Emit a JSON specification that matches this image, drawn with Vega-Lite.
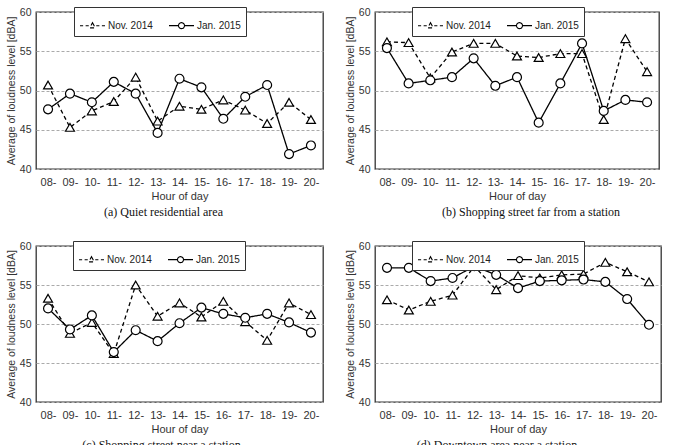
{
  "$schema": "https://vega.github.io/schema/vega-lite/v6.json",
  "padding": {"left": 5, "top": 5, "right": 5, "bottom": 5},
  "background": "white",
  "datasets": {
    "all": [
      {"p": "a", "hour": "08-", "nov": 50.7, "jan": 47.6},
      {"p": "a", "hour": "09-", "nov": 45.3, "jan": 49.6},
      {"p": "a", "hour": "10-", "nov": 47.4, "jan": 48.5},
      {"p": "a", "hour": "11-", "nov": 48.6, "jan": 51.1},
      {"p": "a", "hour": "12-", "nov": 51.7, "jan": 49.6},
      {"p": "a", "hour": "13-", "nov": 46.1, "jan": 44.6},
      {"p": "a", "hour": "14-", "nov": 48.0, "jan": 51.5},
      {"p": "a", "hour": "15-", "nov": 47.6, "jan": 50.4},
      {"p": "a", "hour": "16-", "nov": 48.8, "jan": 46.4},
      {"p": "a", "hour": "17-", "nov": 47.5, "jan": 49.2},
      {"p": "a", "hour": "18-", "nov": 45.8, "jan": 50.7},
      {"p": "a", "hour": "19-", "nov": 48.5, "jan": 41.9},
      {"p": "a", "hour": "20-", "nov": 46.3, "jan": 43.0},
      {"p": "b", "hour": "08-", "nov": 56.2, "jan": 55.4},
      {"p": "b", "hour": "09-", "nov": 56.1, "jan": 50.9},
      {"p": "b", "hour": "10-", "nov": 51.6, "jan": 51.3},
      {"p": "b", "hour": "11-", "nov": 54.9, "jan": 51.7},
      {"p": "b", "hour": "12-", "nov": 56.0, "jan": 54.1},
      {"p": "b", "hour": "13-", "nov": 56.0, "jan": 50.6},
      {"p": "b", "hour": "14-", "nov": 54.4, "jan": 51.7},
      {"p": "b", "hour": "15-", "nov": 54.2, "jan": 45.9},
      {"p": "b", "hour": "16-", "nov": 54.7, "jan": 50.9},
      {"p": "b", "hour": "17-", "nov": 54.7, "jan": 56.0},
      {"p": "b", "hour": "18-", "nov": 46.3, "jan": 47.4},
      {"p": "b", "hour": "19-", "nov": 56.6, "jan": 48.8},
      {"p": "b", "hour": "20-", "nov": 52.4, "jan": 48.5},
      {"p": "c", "hour": "08-", "nov": 53.3, "jan": 52.0},
      {"p": "c", "hour": "09-", "nov": 48.8, "jan": 49.3},
      {"p": "c", "hour": "10-", "nov": 50.2, "jan": 51.1},
      {"p": "c", "hour": "11-", "nov": 46.2, "jan": 46.4},
      {"p": "c", "hour": "12-", "nov": 55.0, "jan": 49.2},
      {"p": "c", "hour": "13-", "nov": 51.0, "jan": 47.8},
      {"p": "c", "hour": "14-", "nov": 52.7, "jan": 50.1},
      {"p": "c", "hour": "15-", "nov": 50.9, "jan": 52.1},
      {"p": "c", "hour": "16-", "nov": 52.9, "jan": 51.3},
      {"p": "c", "hour": "17-", "nov": 50.3, "jan": 50.8},
      {"p": "c", "hour": "18-", "nov": 47.9, "jan": 51.3},
      {"p": "c", "hour": "19-", "nov": 52.7, "jan": 50.2},
      {"p": "c", "hour": "20-", "nov": 51.2, "jan": 48.9},
      {"p": "d", "hour": "08-", "nov": 53.1, "jan": 57.2},
      {"p": "d", "hour": "09-", "nov": 51.8, "jan": 57.2},
      {"p": "d", "hour": "10-", "nov": 52.9, "jan": 55.5},
      {"p": "d", "hour": "11-", "nov": 53.7, "jan": 55.9},
      {"p": "d", "hour": "12-", "nov": 57.4, "jan": 57.4},
      {"p": "d", "hour": "13-", "nov": 54.4, "jan": 56.3},
      {"p": "d", "hour": "14-", "nov": 56.2, "jan": 54.6},
      {"p": "d", "hour": "15-", "nov": 55.9, "jan": 55.5},
      {"p": "d", "hour": "16-", "nov": 56.3, "jan": 55.6},
      {"p": "d", "hour": "17-", "nov": 56.4, "jan": 55.7},
      {"p": "d", "hour": "18-", "nov": 57.9, "jan": 55.4},
      {"p": "d", "hour": "19-", "nov": 56.7, "jan": 53.2},
      {"p": "d", "hour": "20-", "nov": 55.4, "jan": 49.9}
    ]
  },
  "vconcat": [
    {
      "resolve": {"scale": {"strokeDash": "independent"}, "legend": {"strokeDash": "independent"}},
      "hconcat": [
        {
          "width": 287, "height": 157,
          "data": {"name": "all"},
          "transform": [{"filter": "datum.p == 'a'"}, {"fold": ["nov", "jan"], "as": ["series", "value"]}],
          "title": {"text": "(a) Quiet residential area", "dx": -16},
          "encoding": {
            "x": {"field": "hour", "type": "ordinal", "title": "Hour of day", "scale": {"type": "point", "padding": 0.55}},
            "y": {"field": "value", "type": "quantitative", "title": "Average of loudness level [dBA]", "scale": {"domain": [40, 60], "nice": false, "zero": false}}
          },
          "layer": [
            {"mark": {"type": "line", "color": "black", "strokeWidth": 1.3},
             "encoding": {"strokeDash": {"field": "series", "type": "nominal", "scale": {"domain": ["nov", "jan"], "range": [[4, 3], [1, 0]]},
               "legend": {"legendX": 38, "legendY": -5, "labelExpr": "datum.value == 'nov' ? 'Nov. 2014' : 'Jan. 2015'",
                 "encode": {"symbols": {"update": {
                   "shape": {"signal": "datum.value == 'nov' ? 'M-1,0H-0.75M-0.55,0H-0.3M0.3,0H0.55M0.75,0H1M0,-0.24L0.22,0.17L-0.22,0.17Z' : 'M-1,0H-0.24M0.24,0H1M0.24,0A0.24,0.24 0 1,1 -0.24,0A0.24,0.24 0 1,1 0.24,0Z'"},
                   "strokeDash": {"value": [1, 0]}, "fill": {"value": "white"}, "stroke": {"value": "black"}, "strokeWidth": {"value": 1.1}, "opacity": {"value": 1}}}}}}}},
            {"transform": [{"filter": "datum.series == 'nov'"}],
             "mark": {"type": "point", "shape": "triangle-up", "filled": true, "fill": "white", "stroke": "black", "strokeWidth": 1.2, "size": 80, "opacity": 1}},
            {"transform": [{"filter": "datum.series == 'jan'"}],
             "mark": {"type": "point", "shape": "circle", "filled": true, "fill": "white", "stroke": "black", "strokeWidth": 1.2, "size": 80, "opacity": 1}}
          ]
        },
        {
          "width": 284, "height": 157,
          "data": {"name": "all"},
          "transform": [{"filter": "datum.p == 'b'"}, {"fold": ["nov", "jan"], "as": ["series", "value"]}],
          "title": {"text": "(b) Shopping street far from a station", "dx": 14},
          "encoding": {
            "x": {"field": "hour", "type": "ordinal", "title": "Hour of day", "scale": {"type": "point", "padding": 0.55}},
            "y": {"field": "value", "type": "quantitative", "title": "Average of loudness level [dBA]", "scale": {"domain": [40, 60], "nice": false, "zero": false}}
          },
          "layer": [
            {"mark": {"type": "line", "color": "black", "strokeWidth": 1.3},
             "encoding": {"strokeDash": {"field": "series", "type": "nominal", "scale": {"domain": ["nov", "jan"], "range": [[4, 3], [1, 0]]},
               "legend": {"legendX": 37, "legendY": -5, "labelExpr": "datum.value == 'nov' ? 'Nov. 2014' : 'Jan. 2015'",
                 "encode": {"symbols": {"update": {
                   "shape": {"signal": "datum.value == 'nov' ? 'M-1,0H-0.75M-0.55,0H-0.3M0.3,0H0.55M0.75,0H1M0,-0.24L0.22,0.17L-0.22,0.17Z' : 'M-1,0H-0.24M0.24,0H1M0.24,0A0.24,0.24 0 1,1 -0.24,0A0.24,0.24 0 1,1 0.24,0Z'"},
                   "strokeDash": {"value": [1, 0]}, "fill": {"value": "white"}, "stroke": {"value": "black"}, "strokeWidth": {"value": 1.1}, "opacity": {"value": 1}}}}}}}},
            {"transform": [{"filter": "datum.series == 'nov'"}],
             "mark": {"type": "point", "shape": "triangle-up", "filled": true, "fill": "white", "stroke": "black", "strokeWidth": 1.2, "size": 80, "opacity": 1}},
            {"transform": [{"filter": "datum.series == 'jan'"}],
             "mark": {"type": "point", "shape": "circle", "filled": true, "fill": "white", "stroke": "black", "strokeWidth": 1.2, "size": 80, "opacity": 1}}
          ]
        }
      ]
    },
    {
      "resolve": {"scale": {"strokeDash": "independent"}, "legend": {"strokeDash": "independent"}},
      "hconcat": [
        {
          "width": 287, "height": 156,
          "data": {"name": "all"},
          "transform": [{"filter": "datum.p == 'c'"}, {"fold": ["nov", "jan"], "as": ["series", "value"]}],
          "title": {"text": "(c) Shopping street near a station", "dx": -18},
          "encoding": {
            "x": {"field": "hour", "type": "ordinal", "title": "Hour of day", "scale": {"type": "point", "padding": 0.55}},
            "y": {"field": "value", "type": "quantitative", "title": "Average of loudness level [dBA]", "scale": {"domain": [40, 60], "nice": false, "zero": false}}
          },
          "layer": [
            {"mark": {"type": "line", "color": "black", "strokeWidth": 1.3},
             "encoding": {"strokeDash": {"field": "series", "type": "nominal", "scale": {"domain": ["nov", "jan"], "range": [[4, 3], [1, 0]]},
               "legend": {"legendX": 37, "legendY": -5, "labelExpr": "datum.value == 'nov' ? 'Nov. 2014' : 'Jan. 2015'",
                 "encode": {"symbols": {"update": {
                   "shape": {"signal": "datum.value == 'nov' ? 'M-1,0H-0.75M-0.55,0H-0.3M0.3,0H0.55M0.75,0H1M0,-0.24L0.22,0.17L-0.22,0.17Z' : 'M-1,0H-0.24M0.24,0H1M0.24,0A0.24,0.24 0 1,1 -0.24,0A0.24,0.24 0 1,1 0.24,0Z'"},
                   "strokeDash": {"value": [1, 0]}, "fill": {"value": "white"}, "stroke": {"value": "black"}, "strokeWidth": {"value": 1.1}, "opacity": {"value": 1}}}}}}}},
            {"transform": [{"filter": "datum.series == 'nov'"}],
             "mark": {"type": "point", "shape": "triangle-up", "filled": true, "fill": "white", "stroke": "black", "strokeWidth": 1.2, "size": 80, "opacity": 1}},
            {"transform": [{"filter": "datum.series == 'jan'"}],
             "mark": {"type": "point", "shape": "circle", "filled": true, "fill": "white", "stroke": "black", "strokeWidth": 1.2, "size": 80, "opacity": 1}}
          ]
        },
        {
          "width": 286, "height": 156,
          "data": {"name": "all"},
          "transform": [{"filter": "datum.p == 'd'"}, {"fold": ["nov", "jan"], "as": ["series", "value"]}],
          "title": {"text": "(d) Downtown area near a station", "dx": -21},
          "encoding": {
            "x": {"field": "hour", "type": "ordinal", "title": "Hour of day", "scale": {"type": "point", "padding": 0.55}},
            "y": {"field": "value", "type": "quantitative", "title": "Average of loudness level [dBA]", "scale": {"domain": [40, 60], "nice": false, "zero": false}}
          },
          "layer": [
            {"mark": {"type": "line", "color": "black", "strokeWidth": 1.3},
             "encoding": {"strokeDash": {"field": "series", "type": "nominal", "scale": {"domain": ["nov", "jan"], "range": [[4, 3], [1, 0]]},
               "legend": {"legendX": 37, "legendY": -5, "labelExpr": "datum.value == 'nov' ? 'Nov. 2014' : 'Jan. 2015'",
                 "encode": {"symbols": {"update": {
                   "shape": {"signal": "datum.value == 'nov' ? 'M-1,0H-0.75M-0.55,0H-0.3M0.3,0H0.55M0.75,0H1M0,-0.24L0.22,0.17L-0.22,0.17Z' : 'M-1,0H-0.24M0.24,0H1M0.24,0A0.24,0.24 0 1,1 -0.24,0A0.24,0.24 0 1,1 0.24,0Z'"},
                   "strokeDash": {"value": [1, 0]}, "fill": {"value": "white"}, "stroke": {"value": "black"}, "strokeWidth": {"value": 1.1}, "opacity": {"value": 1}}}}}}}},
            {"transform": [{"filter": "datum.series == 'nov'"}],
             "mark": {"type": "point", "shape": "triangle-up", "filled": true, "fill": "white", "stroke": "black", "strokeWidth": 1.2, "size": 80, "opacity": 1}},
            {"transform": [{"filter": "datum.series == 'jan'"}],
             "mark": {"type": "point", "shape": "circle", "filled": true, "fill": "white", "stroke": "black", "strokeWidth": 1.2, "size": 80, "opacity": 1}}
          ]
        }
      ]
    }
  ],
  "resolve": {"scale": {"strokeDash": "independent"}, "legend": {"strokeDash": "independent"}},
  "config": {
    "vconcat": {"spacing": 20},
    "hconcat": {"spacing": 39},
    "view": {"stroke": "#333", "strokeWidth": 1.3},
    "title": {"orient": "bottom", "anchor": "middle", "frame": "group", "font": "Liberation Serif", "fontSize": 12, "fontWeight": "normal", "color": "#111", "offset": 6},
    "axis": {"labelFont": "Liberation Sans", "labelFontSize": 10.5, "labelColor": "#333", "titleFont": "Liberation Sans", "titleFontSize": 10.5, "titleFontWeight": "normal", "titleColor": "#333", "ticks": false, "domain": false, "labelPadding": 5},
    "axisX": {"grid": false, "labelAngle": 0, "labelFontSize": 11, "labelPadding": 7, "titlePadding": 3, "titleFontSize": 11},
    "axisY": {"grid": true, "gridDash": [3, 2], "gridColor": "#aaa", "gridWidth": 1, "values": [40, 45, 50, 55, 60], "titlePadding": 3},
    "legend": {
      "orient": "none", "direction": "horizontal", "title": null,
      "fillColor": "white", "strokeColor": "#333", "strokeWidth": 1, "padding": 5, "cornerRadius": 0,
      "labelFont": "Liberation Sans", "labelFontSize": 10, "labelColor": "#222", "labelOffset": 2,
      "columnPadding": 13, "symbolSize": 625, "symbolStrokeWidth": 1.1, "symbolStrokeColor": "black", "symbolFillColor": "white"
    }
  }
}
